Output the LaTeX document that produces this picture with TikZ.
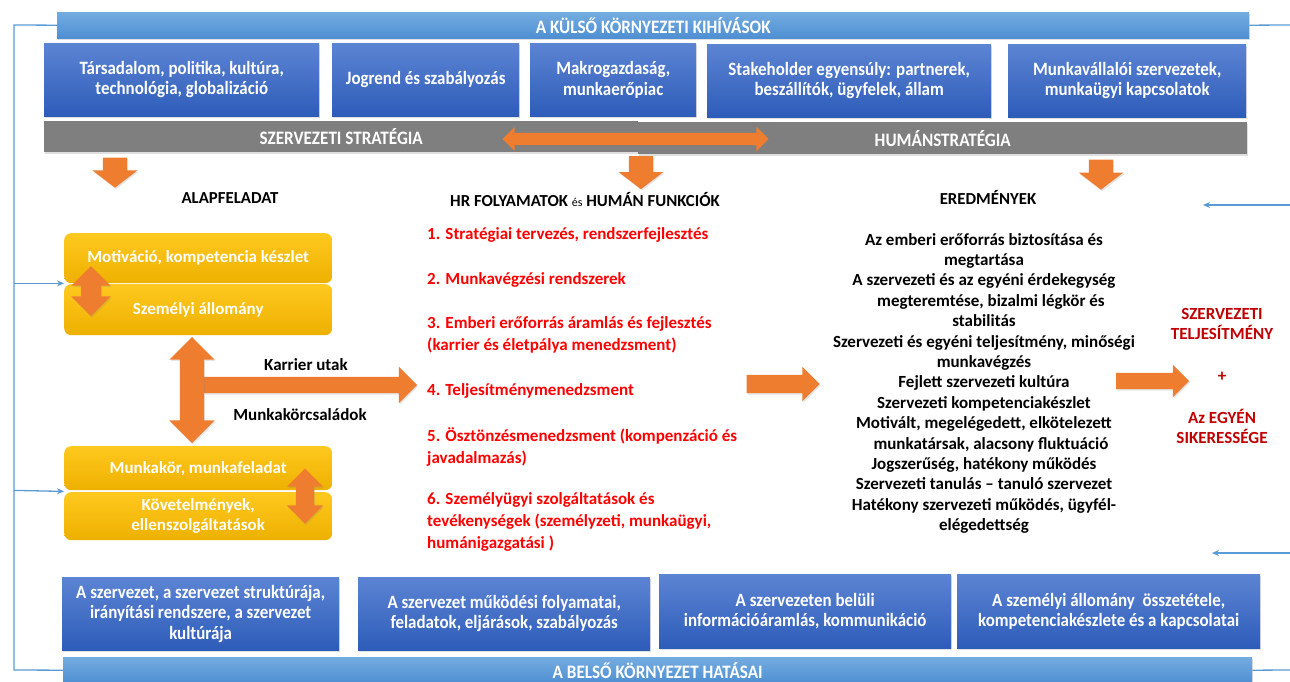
\documentclass[tikz,border=0pt]{standalone}
\usepackage{fontspec}
\setmainfont{Carlito}
\newfontfamily\condfont{Carlito}[FakeStretch=0.9]
\usetikzlibrary{shapes.arrows,shadows,arrows.meta}
\definecolor{lblueT}{HTML}{74ACE0}
\definecolor{lblueB}{HTML}{4E8FD2}
\definecolor{dblueT}{HTML}{5C84D3}
\definecolor{dblueB}{HTML}{2D5CB9}
\definecolor{grayb}{HTML}{7F7F7F}
\definecolor{ylwT}{HTML}{FFC91F}
\definecolor{ylwB}{HTML}{EDB000}
\definecolor{orng}{HTML}{EF7D30}
\definecolor{conncol}{HTML}{5B9BD5}
\definecolor{redA}{HTML}{FF0000}
\definecolor{redB}{HTML}{C00000}
\begin{document}
\begin{tikzpicture}[x=1pt,y=-1pt,
  shad/.style={drop shadow={opacity=0.25,shadow xshift=1pt,shadow yshift=-1.5pt}},
  extbar/.style={anchor=north west,inner sep=0pt,top color=lblueT,bottom color=lblueB,text=white,
     font=\condfont\bfseries\fontsize{19}{21}\selectfont,shad},
  bluebox/.style={anchor=north west,inner sep=0pt,top color=dblueT,bottom color=dblueB,text=white,align=center,
     font=\condfont\bfseries\fontsize{18.8}{20.5}\selectfont,shad},
  graybar/.style={anchor=north west,inner sep=0pt,fill=grayb,text=white,
     font=\condfont\bfseries\fontsize{19}{21}\selectfont,shad},
  ybox/.style={anchor=north west,inner sep=0pt,rounded corners=7pt,top color=ylwT,bottom color=ylwB,
     text=white,align=center,font=\bfseries\fontsize{17}{20}\selectfont},
  oarrow/.style={single arrow,draw=none,fill=orng,inner xsep=0pt,
     drop shadow={opacity=0.2,shadow xshift=1pt,shadow yshift=-1.5pt}},
  odarrow/.style={double arrow,draw=none,fill=orng,inner xsep=0pt,
     drop shadow={opacity=0.2,shadow xshift=1pt,shadow yshift=-1.5pt}},
  heading/.style={font=\bfseries\fontsize{16.8}{18}\selectfont,text=black},
  hritem/.style={anchor=north west,inner sep=0pt,align=left,text=redA,font=\bfseries\fontsize{17}{22}\selectfont},
  results/.style={anchor=north,inner sep=0pt,align=center,text=black,font=\bfseries\fontsize{17}{20.4}\selectfont},
  redres/.style={inner sep=0pt,align=center,text=redB,font=\bfseries\fontsize{17}{20}\selectfont},
  label/.style={inner sep=0pt,text=black,font=\bfseries\fontsize{17}{18}\selectfont},
  conn/.style={draw=conncol,line width=1.3pt},
  connar/.style={conn,-{Stealth[length=7pt,width=6pt]}}
]
\useasboundingbox[fill=white] (0,0) rectangle (1290,682);

% external bar and boxes
\node[extbar,minimum width=1192pt,minimum height=26pt] (ext) at (57,12) {A KÜLSŐ KÖRNYEZETI KIHÍVÁSOK};
\node[bluebox,minimum width=275pt,minimum height=73pt] (e1) at (44,43) {Társadalom, politika, kultúra,\\technológia, globalizáció};
\node[bluebox,minimum width=187pt,minimum height=73pt] (e2) at (332,43) {Jogrend és szabályozás};
\node[bluebox,minimum width=166pt,minimum height=73pt] (e3) at (530,43) {Makrogazdaság,\\munkaerőpiac};
\node[bluebox,minimum width=284pt,minimum height=73pt] (e4) at (707,44) {Stakeholder egyensúly: partnerek,\\beszállítók, ügyfelek, állam};
\node[bluebox,minimum width=238pt,minimum height=73pt] (e5) at (1008,44) {Munkavállalói szervezetek,\\munkaügyi kapcsolatok};

% strategy bars
\node[graybar,minimum width=594pt,minimum height=31pt] (sz) at (44,121) {SZERVEZETI STRATÉGIA};
\node[graybar,minimum width=609pt,minimum height=32pt] (hu) at (638,122) {HUMÁNSTRATÉGIA};
\node[odarrow,minimum height=266pt,minimum width=24pt,inner ysep=6pt,double arrow head extend=6pt] (hz) at (635.5,139) {};

% down arrows
\node[oarrow,rotate=-90,minimum height=30pt,minimum width=45pt,inner ysep=12pt,single arrow head extend=10.5pt,single arrow tip angle=105] (d1) at (115,168) {};
\node[oarrow,rotate=-90,minimum height=33pt,minimum width=44pt,inner ysep=12pt,single arrow head extend=10pt,single arrow tip angle=105] (d2) at (641,168) {};
\node[oarrow,rotate=-90,minimum height=30pt,minimum width=44pt,inner ysep=12pt,single arrow head extend=10pt,single arrow tip angle=105] (d3) at (1101,170) {};

% headings
\node[heading] (h1) at (230,198) {ALAPFELADAT};
\node[heading] (h2) at (585,200) {HR FOLYAMATOK {\mdseries\fontsize{12}{13}\selectfont és} HUMÁN FUNKCIÓK};
\node[heading] (h3) at (988,197) {EREDMÉNYEK};

% yellow boxes
\node[ybox,minimum width=268pt,minimum height=50pt] (y1) at (64,233) {Motiváció, kompetencia készlet};
\node[ybox,minimum width=268pt,minimum height=51pt] (y2) at (64,284) {Személyi állomány};
\node[ybox,minimum width=268pt,minimum height=44pt] (y3) at (64,446) {Munkakör, munkafeladat};
\node[ybox,minimum width=268pt,minimum height=48pt] (y4) at (64,492) {Követelmények,\\ellenszolgáltatások};

\node[odarrow,rotate=90,minimum height=50pt,minimum width=39pt,inner ysep=10pt,double arrow head extend=9.5pt] (ya1) at (91,291) {};
\node[odarrow,rotate=90,minimum height=55pt,minimum width=36pt,inner ysep=9pt,double arrow head extend=9pt] (ya2) at (305,496) {};

\node[oarrow,minimum height=213pt,minimum width=36pt,inner ysep=8pt,single arrow head extend=10pt] (ka) at (306.5,385) {};
\node[odarrow,rotate=90,minimum height=106pt,minimum width=45pt,inner ysep=12pt,double arrow head extend=10.5pt] (va) at (192,390) {};
\node[label] (kl) at (306,365) {Karrier utak};
\node[label] (ml) at (300,415) {Munkakörcsaládok};

% HR items
\node[hritem] (i1) at (427,227) {1. Stratégiai tervezés, rendszerfejlesztés};
\node[hritem] (i2) at (427,272) {2. Munkavégzési rendszerek};
\node[hritem] (i3) at (427,316) {3. Emberi erőforrás áramlás és fejlesztés\\(karrier és életpálya menedzsment)};
\node[hritem] (i4) at (427,383) {4. Teljesítménymenedzsment};
\node[hritem] (i5) at (427,427) {5. Ösztönzésmenedzsment (kompenzáció és\\javadalmazás)};
\node[hritem] (i6) at (427,492) {6. Személyügyi szolgáltatások és\\tevékenységek (személyzeti, munkaügyi,\\humánigazgatási )};

\node[oarrow,minimum height=73pt,minimum width=34pt,inner ysep=9pt,single arrow head extend=8pt] (ma) at (778.5,384) {};

% results
\node[results] (res) at (984,233) {Az emberi erőforrás biztosítása és\\megtartása\\A szervezeti és az egyéni érdekegység\\\hspace*{14pt}megteremtése, bizalmi légkör és\\stabilitás\\Szervezeti és egyéni teljesítmény, minőségi\\munkavégzés\\Fejlett szervezeti kultúra\\Szervezeti kompetenciakészlet\\Motivált, megelégedett, elkötelezett\\\hspace*{14pt}munkatársak, alacsony fluktuáció\\Jogszerűség, hatékony működés\\Szervezeti tanulás – tanuló szervezet\\Hatékony szervezeti működés, ügyfél-\\elégedettség};

\node[oarrow,minimum height=73pt,minimum width=32pt,inner ysep=8pt,single arrow head extend=8pt] (ra) at (1148.5,381) {};
\node[redres] (r1) at (1222,324) {SZERVEZETI\\TELJESÍTMÉNY};
\node[redres] (r2) at (1222,377) {+};
\node[redres] (r3) at (1222,426) {Az EGYÉN\\SIKERESSÉGE};

% internal boxes and bar
\node[bluebox,minimum width=277pt,minimum height=73pt] (b1) at (62,577) {A szervezet, a szervezet struktúrája,\\irányítási rendszere, a szervezet\\kultúrája};
\node[bluebox,minimum width=292pt,minimum height=73pt] (b2) at (358,577) {A szervezet működési folyamatai,\\feladatok, eljárások, szabályozás};
\node[bluebox,minimum width=292pt,minimum height=74pt] (b3) at (659,574) {A szervezeten belüli\\információáramlás, kommunikáció};
\node[bluebox,minimum width=303pt,minimum height=74pt] (b4) at (957,574) {A személyi állomány\ \ összetétele,\\kompetenciakészlete és a kapcsolatai};
\node[extbar,minimum width=1189pt,minimum height=26pt] (int) at (63,657) {A BELSŐ KÖRNYEZET HATÁSAI};

% connectors
\coordinate (LT) at (14,25);
\coordinate (LB) at (14,670);
\draw[conn] (ext.west) -- (LT) -- (LB) -- (int.west);
\draw[connar] (LT |- y1.south west) -- (y1.south west);
\draw[connar] (LT |- y3.south west) -- ([yshift=-1pt]y3.south west);
\coordinate (RT) at (1290,25);
\coordinate (RB) at (1290,670);
\draw[conn] (ext.east) -- (RT);
\draw[conn] (int.east) -- (RB);
\coordinate (RA1) at (1290,205);
\coordinate (RA1e) at (1203,205);
\coordinate (RA2) at (1290,553);
\coordinate (RA2e) at (1212,553);
\draw[connar] (RA1) -- (RA1e);
\draw[connar] (RA2) -- (RA2e);
\end{tikzpicture}
\end{document}
